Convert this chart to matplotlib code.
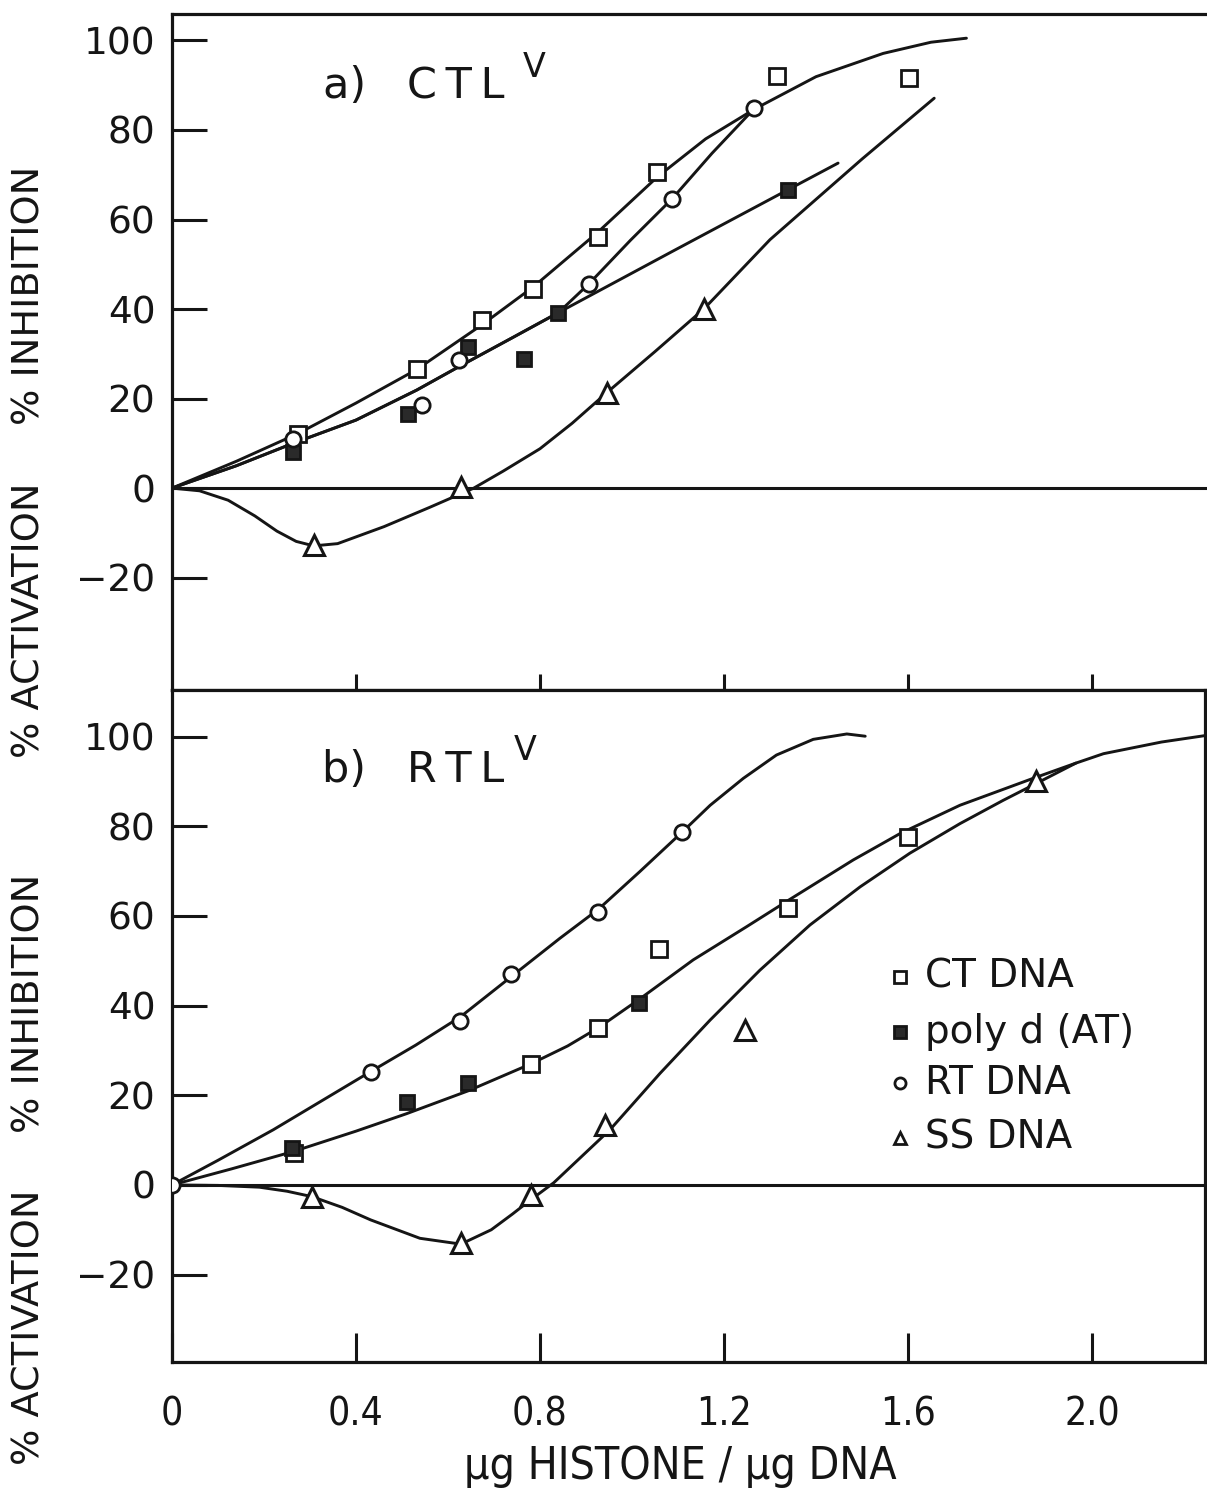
import matplotlib
matplotlib.use("Agg")
import matplotlib.pyplot as plt
from matplotlib.transforms import blended_transform_factory

# ---- a) CTL^V : measured points ----
a_ct_x = [0.274, 0.532, 0.674, 0.784, 0.926, 1.054, 1.316, 1.603]
a_ct_y = [12.2, 26.5, 37.5, 44.4, 56.2, 70.5, 92.1, 91.7]
a_poly_x = [0.263, 0.513, 0.643, 0.765, 0.840, 1.340]
a_poly_y = [8.1, 16.5, 31.6, 28.8, 39.2, 66.7]
a_rt_x = [0.263, 0.543, 0.625, 0.907, 1.087, 1.266]
a_rt_y = [10.9, 18.5, 28.6, 45.7, 64.6, 84.8]
a_ss_x = [0.308, 0.628, 0.945, 1.157]
a_ss_y = [-12.6, 0.3, 21.3, 40.1]

# hand-drawn fit curves, panel a
a_ct_fit_x = [0, 0.14, 0.274, 0.40, 0.532, 0.674, 0.786, 0.924, 1.055, 1.16, 1.267, 1.40, 1.546, 1.65, 1.727]
a_ct_fit_y = [0, 6.0, 12.2, 19.0, 26.5, 36.5, 45.0, 57.0, 69.5, 78.0, 84.7, 91.9, 97.1, 99.6, 100.5]
a_poly_fit_x = [0, 0.14, 0.263, 0.40, 0.532, 0.625, 0.74, 0.84, 1.09, 1.340, 1.448]
a_poly_fit_y = [0, 5.0, 10.0, 15.2, 21.9, 27.2, 33.6, 39.2, 53.0, 66.7, 72.6]
a_rt_fit_x = [0, 0.14, 0.263, 0.40, 0.532, 0.625, 0.74, 0.84, 0.907, 0.997, 1.087, 1.174, 1.266]
a_rt_fit_y = [0, 5.0, 10.0, 15.2, 21.9, 27.2, 33.6, 39.2, 45.7, 55.4, 64.6, 74.8, 84.8]
a_ss_fit_x = [0, 0.06, 0.122, 0.18, 0.228, 0.27, 0.308, 0.36, 0.461, 0.56, 0.656, 0.72, 0.80,
              0.87, 0.945, 1.05, 1.157, 1.30, 1.50, 1.657]
a_ss_fit_y = [0, -0.6, -2.7, -6.2, -9.6, -11.9, -12.9, -12.4, -8.6, -4.3, 0, 3.8, 8.8,
              14.5, 21.3, 30.5, 40.1, 55.5, 73.5, 87.1]

# ---- b) RTL^V : measured points ----
b_ct_x = [0.265, 0.780, 0.927, 1.058, 1.340, 1.600]
b_ct_y = [7.2, 27.0, 34.9, 52.7, 61.7, 77.6]
b_poly_x = [0.26, 0.510, 0.644, 1.015]
b_poly_y = [8.3, 18.4, 22.7, 40.5]
b_rt_x = [0, 0.432, 0.627, 0.738, 0.927, 1.109]
b_rt_y = [0, 25.3, 36.5, 47.1, 60.9, 78.8]
b_ss_x = [0.304, 0.628, 0.780, 0.941, 1.246, 1.879]
b_ss_y = [-2.6, -12.9, -2.2, 13.4, 34.6, 90.0]

# hand-drawn fit curves, panel b
b_ct_fit_x = [0, 0.13, 0.265, 0.40, 0.51, 0.644, 0.78, 0.86, 0.929, 1.017, 1.133, 1.249, 1.340,
              1.481, 1.583, 1.713, 1.872, 1.965, 2.025, 2.151, 2.25]
b_ct_fit_y = [0, 3.6, 7.5, 12.0, 15.9, 21.0, 27.0, 31.0, 35.2, 41.5, 50.2, 57.6, 63.5,
              72.5, 78.4, 84.7, 90.7, 94.1, 96.2, 98.8, 100.3]
b_rt_fit_x = [0, 0.1, 0.22, 0.432, 0.53, 0.627, 0.738, 0.843, 0.927, 1.017, 1.110, 1.170,
              1.242, 1.314, 1.394, 1.467, 1.507]
b_rt_fit_y = [0, 5.5, 12.3, 25.3, 31.2, 37.5, 46.5, 55.0, 61.5, 69.9, 78.8, 84.7,
              90.7, 95.9, 99.4, 100.6, 100.1]
b_ss_fit_x = [0, 0.1, 0.19, 0.25, 0.304, 0.37, 0.432, 0.539, 0.628, 0.694, 0.74, 0.780, 0.830,
              0.952, 1.061, 1.170, 1.278, 1.387, 1.496, 1.604, 1.713, 1.807, 1.872, 1.965]
b_ss_fit_y = [0, -0.1, -0.5, -1.4, -2.6, -5.0, -7.8, -11.9, -13.2, -10.0, -6.5, -3.3, 0.5,
              12.3, 24.9, 36.8, 47.9, 58.0, 66.5, 74.0, 80.6, 85.8, 89.2, 94.1]

legend_labels = ["CT DNA", "poly d (AT)", "RT DNA", "SS DNA"]
x_ticks = [0, 0.4, 0.8, 1.2, 1.6, 2.0]
x_tick_labels = ["0", "0.4", "0.8", "1.2", "1.6", "2.0"]
y_ticks = [-20, 0, 20, 40, 60, 80, 100]

INK = "#151515"
plt.rcParams["font.family"] = "DejaVu Sans"

fig = plt.figure(figsize=(12.07, 14.91), dpi=100)
ax_a = fig.add_axes([0.1425, 0.5372, 0.8575, 0.4534])
ax_b = fig.add_axes([0.1425, 0.0865, 0.8555, 0.4507])

ax_a.set_ylim(-45.1, 105.9)
ax_b.set_ylim(-39.5, 110.4)

styles = {
    "ct": dict(marker="s", ms=11, mfc="white", mec=INK, mew=2.0, ls="none", zorder=4),
    "poly": dict(marker="s", ms=10, mfc="#2a2a2a", mec=INK, mew=2.0, ls="none", zorder=4),
    "rt": dict(marker="o", ms=11, mfc="white", mec=INK, mew=2.0, ls="none", zorder=4),
    "ss": dict(marker="^", ms=14, mfc="white", mec=INK, mew=2.2, ls="none", zorder=4),
}
curve = dict(color=INK, lw=2.1, solid_capstyle="round", solid_joinstyle="round", zorder=3)

# panel a
ax_a.plot(a_ct_fit_x, a_ct_fit_y, **curve)
ax_a.plot(a_poly_fit_x, a_poly_fit_y, **curve)
ax_a.plot(a_rt_fit_x, a_rt_fit_y, **curve)
ax_a.plot(a_ss_fit_x, a_ss_fit_y, **curve)
ax_a.plot(a_ct_x, a_ct_y, **styles["ct"])
ax_a.plot(a_poly_x, a_poly_y, **styles["poly"])
ax_a.plot(a_rt_x, a_rt_y, **styles["rt"])
ax_a.plot(a_ss_x, a_ss_y, **styles["ss"])

# panel b
ax_b.plot(b_ct_fit_x, b_ct_fit_y, **curve)
ax_b.plot(b_rt_fit_x, b_rt_fit_y, **curve)
ax_b.plot(b_ss_fit_x, b_ss_fit_y, **curve)
ax_b.plot(b_ct_x, b_ct_y, **styles["ct"])
ax_b.plot(b_poly_x, b_poly_y, **styles["poly"])
ax_b.plot(b_rt_x, b_rt_y, **styles["rt"])
ax_b.plot(b_ss_x, b_ss_y, **styles["ss"])

for ax in (ax_a, ax_b):
    ax.set_xlim(0, 2.25)
    ax.axhline(0, color=INK, lw=2.2, zorder=2)
    for side in ax.spines:
        ax.spines[side].set_linewidth(2.3)
        ax.spines[side].set_color(INK)
    ax.set_yticks(y_ticks)
    ax.tick_params(axis="y", direction="in", length=25, width=2.2, pad=12,
                   labelsize=27, colors=INK)
ax_a.spines["right"].set_visible(False)
ax_b.set_xlim(0, 2.25 * 0.8555 / 0.8575)

ax_a.set_xticks(x_ticks[1:])
ax_a.tick_params(axis="x", direction="inout", length=23, width=2.2, labelbottom=False, colors=INK)
ax_b.set_xticks(x_ticks)
ax_b.set_xticklabels(x_tick_labels, fontstretch="condensed")
ax_b.tick_params(axis="x", direction="in", length=21, width=2.2, pad=24, labelsize=28, colors=INK)
ax_b.set_xlabel("µg HISTONE / µg DNA", fontsize=32, color=INK, fontstretch="condensed",
                va="center")
ax_b.xaxis.set_label_coords(0.492, -0.156)

# axis titles, split into the two halves of the scale
for ax, inh_y, act_y in ((ax_a, 43.0, -29.5), (ax_b, 40.6, -31.8)):
    trans = blended_transform_factory(ax.transAxes, ax.transData)
    ax.text(-0.138, inh_y, "% INHIBITION", transform=trans, rotation=90, ha="center",
            va="center", fontsize=27.5, color=INK, clip_on=False)
    ax.text(-0.138, act_y, "% ACTIVATION", transform=trans, rotation=90, ha="center",
            va="center", fontsize=27.5, color=INK, clip_on=False)

thin = "\u2009"
ax_a.text(0.328, 87.2, "a)   " + thin.join("CTL"), fontsize=31, color=INK, va="baseline")
ax_a.text(0.762, 91.8, "V", fontsize=24, color=INK, va="baseline")
ax_b.text(0.326, 89.9, "b)   " + thin.join("RTL"), fontsize=31, color=INK, va="baseline")
ax_b.text(0.742, 94.8, "V", fontsize=24, color=INK, va="baseline")

# key, lower right of panel b
key_style = [
    dict(marker="s", ms=8, mfc="white", mec=INK, mew=2.0),
    dict(marker="s", ms=8, mfc="#2a2a2a", mec=INK, mew=2.0),
    dict(marker="o", ms=8, mfc="white", mec=INK, mew=2.0),
    dict(marker="^", ms=9, mfc="white", mec=INK, mew=2.0),
]
key_y = [46.4, 34.1, 22.7, 10.5]
for label, st, ky in zip(legend_labels, key_style, key_y):
    ax_b.plot([1.583], [ky], ls="none", **st)
    ax_b.text(1.636, ky, label, fontsize=28, color=INK, va="center")

fig.savefig("out.png", dpi=100, facecolor="white")
